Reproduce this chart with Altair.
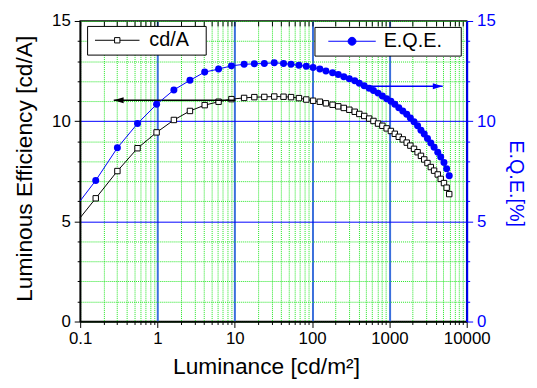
import altair as alt
import pandas as pd

FONT = "Liberation Sans"

# ---------------- data ----------------
luminance = [0.159, 0.303, 0.552, 0.974, 1.63, 2.63, 4.08, 6.17, 9.05, 13.2,
             17.9, 24.1, 32.4, 42.7, 53.4, 67.6, 84.1, 103, 126, 151,
             184, 218, 257, 303, 356, 408, 472, 547, 622, 713,
             811, 921, 1045, 1175, 1322, 1489, 1675, 1867, 2081, 2315,
             2560, 2820, 3107, 3433, 3784, 4220, 4610, 5080, 5500, 5940]
cd_per_a = [6.15, 7.51, 8.65, 9.44, 10.06, 10.51, 10.80, 10.97, 11.10, 11.16,
            11.20, 11.21, 11.23, 11.22, 11.20, 11.15, 11.08, 11.02, 10.97, 10.89,
            10.82, 10.74, 10.66, 10.57, 10.47, 10.36, 10.26, 10.13, 10.01, 9.88,
            9.77, 9.64, 9.51, 9.37, 9.22, 9.09, 8.93, 8.78, 8.62, 8.45,
            8.27, 8.09, 7.91, 7.71, 7.53, 7.34, 7.12, 6.91, 6.68, 6.36]
eqe = [7.04, 8.67, 9.88, 10.84, 11.56, 12.04, 12.45, 12.60, 12.76, 12.84,
       12.86, 12.88, 12.91, 12.88, 12.84, 12.79, 12.74, 12.68, 12.60, 12.50,
       12.42, 12.33, 12.22, 12.12, 12.02, 11.89, 11.77, 11.64, 11.53, 11.40,
       11.26, 11.12, 10.99, 10.84, 10.67, 10.51, 10.34, 10.16, 9.97, 9.77,
       9.55, 9.36, 9.14, 8.91, 8.70, 8.45, 8.21, 7.94, 7.62, 7.27]

# curves start at the left edge of the plot (no marker there)
start_lum = [0.1]
start_cd = [5.18]
start_eqe = [6.02]

# arrows (luminance from, luminance to, level)
arrow_cd = [0.272, 10.2, 11.04]
arrow_eqe = [497, 4890, 11.74]

x_major = [0.1, 1, 10, 100, 1000, 10000]
x_minor = [round(m * 10 ** e, 6) for e in range(-1, 4) for m in range(2, 10)]
y_ticks = list(range(0, 16))

series_cd = ["cd/A"]
series_eqe = ["E.Q.E."]

# ---------------- tables ----------------
cd_line_df = pd.DataFrame({"lum": start_lum + luminance, "val": start_cd + cd_per_a})
cd_pts_df = pd.DataFrame({"lum": luminance, "val": cd_per_a, "s1": series_cd[0]})
eqe_line_df = pd.DataFrame({"lum": start_lum + luminance, "val": start_eqe + eqe})
eqe_pts_df = pd.DataFrame({"lum": luminance, "val": eqe, "s2": series_eqe[0]})
arr_cd_df = pd.DataFrame({"lum": [arrow_cd[0]], "b": [arrow_cd[1]], "val": [arrow_cd[2]]})
arr_eqe_df = pd.DataFrame({"lum": [arrow_eqe[0]], "b": [arrow_eqe[1]], "val": [arrow_eqe[2]]})

x_scale = alt.Scale(type="log", domain=[0.1, 10000], nice=False)
y_scale = alt.Scale(domain=[0, 15], nice=False, zero=False)

major_x = "indexof([0.1,1,10,100,1000,10000], datum.value) >= 0"
inner_x = "datum.value == 1 || datum.value == 10 || datum.value == 100 || datum.value == 1000"
major_y = "datum.value % 5 == 0"
inner_y = "datum.value == 5 || datum.value == 10"
GREEN = "#22e622"

x_bottom_axis = alt.Axis(
    orient="bottom", values=x_major + x_minor, tickCount=200, format="~g",
    labelExpr=f"{major_x} ? datum.label : ''",
    labelFont=FONT, labelFontSize=17, labelColor="black", labelPadding=3,
    labelFlush=False, labelOverlap=False,
    tickColor="black", tickWidth=1,
    tickSize={"condition": {"test": major_x, "value": 6}, "value": 3},
    domainColor="black", domainWidth=1.5,
    grid=True,
    gridColor={"condition": {"test": inner_x, "value": "#3a6fdc"}, "value": GREEN},
    gridWidth={"condition": {"test": inner_x, "value": 2}, "value": 1},
    gridDash={"condition": {"test": inner_x, "value": []}, "value": [1, 1]},
    title="Luminance [cd/m²]", titleFont=FONT, titleFontSize=23,
    titleFontWeight="normal", titleColor="black", titleX=188, titleY=35,
)
y_left_axis = alt.Axis(
    orient="left", values=y_ticks, tickCount=200, format="d",
    labelExpr=f"{major_y} ? datum.label : ''",
    labelFont=FONT, labelFontSize=17, labelColor="black", labelPadding=4,
    labelFlush=False, labelOverlap=False,
    tickColor="black", tickWidth=1,
    tickSize={"condition": {"test": major_y, "value": 6}, "value": 3},
    domainColor="black", domainWidth=1.5,
    grid=True,
    gridColor={"condition": {"test": inner_y, "value": "#0000ff"}, "value": GREEN},
    gridWidth=1,
    gridDash={"condition": {"test": inner_y, "value": []}, "value": [1, 1]},
    title="Luminous Efficiency [cd/A]", titleFont=FONT, titleFontSize=23,
    titleFontWeight="normal", titleColor="black", titleX=-44, titleY=149,
)
x_top_axis = alt.Axis(
    orient="top", values=x_major + x_minor, tickCount=200, labels=False, tickColor="black",
    tickSize=5, tickWidth=1, domain=False, grid=False, offset=-5, title=None,
)
y_right_axis = alt.Axis(
    orient="right", values=y_ticks, tickCount=200, format="d",
    labelExpr=f"{major_y} ? datum.label : ''",
    labelFont=FONT, labelFontSize=17, labelColor="#0000ff", labelPadding=4,
    labelFlush=False, labelOverlap=False,
    tickColor="#0000ff", tickWidth=1,
    tickSize={"condition": {"test": major_y, "value": 6}, "value": 3},
    domainColor="#0000ff", domainWidth=2, grid=False,
    title="E.Q.E.[%]", titleFont=FONT, titleFontSize=20, titleFontWeight="normal",
    titleColor="#0000ff", titleX=39, titleY=164,
)

cd_symbol = "M-2.25,0H-0.27M0.27,0H2.25M-0.27,-0.27H0.27V0.27H-0.27ZM8.3,0M-2.65,0"
eqe_symbol = "M-2.4,0H2.4M0.4,0A0.4,0.4,0,1,1,-0.4,0A0.4,0.4,0,1,1,0.4,0ZM10.4,0M-3.4,0"

cd_legend = alt.Legend(
    orient="none", legendX=7, legendY=5, title=None, padding=4,
    strokeColor="black", fillColor="white",
    symbolType=cd_symbol, symbolSize=400, symbolStrokeWidth=1,
    symbolOffset=16, labelOffset=22, symbolFillColor="white", symbolStrokeColor="black",
    labelFont=FONT, labelFontSize=20, labelColor="black",
)
eqe_legend = alt.Legend(
    orient="none", legendX=237, legendY=6, title=None, padding=4,
    strokeColor="black", fillColor="white",
    symbolType=eqe_symbol, symbolSize=400, symbolStrokeWidth=1,
    symbolOffset=23.5, labelOffset=21.5, symbolFillColor="#0000ff", symbolStrokeColor="#0000ff",
    labelFont=FONT, labelFontSize=20, labelColor="black",
)


def xb(field):
    return alt.X(field, type="quantitative", scale=x_scale, axis=x_bottom_axis)


def yl(field):
    return alt.Y(field, type="quantitative", scale=y_scale, axis=y_left_axis)


def xt(field):
    return alt.X(field, type="quantitative", scale=x_scale, axis=x_top_axis)


def yr(field):
    return alt.Y(field, type="quantitative", scale=y_scale, axis=y_right_axis)


# ---------------- cd/A layer (bottom / left axes) ----------------
cd_line = alt.Chart(cd_line_df).mark_line(color="black", strokeWidth=1).encode(
    x=xb("lum"), y=yl("val"),
)
cd_pts = alt.Chart(cd_pts_df).mark_point(
    shape="square", filled=True, fill="white", size=30, strokeWidth=1, opacity=1
).encode(
    x=xb("lum"), y=yl("val"),
    stroke=alt.Stroke("s1:N", scale=alt.Scale(domain=series_cd, range=["black"]), legend=cd_legend),
)
cd_arrow = alt.Chart(arr_cd_df).mark_rule(color="black", strokeWidth=1.5).encode(
    x=xb("lum"), x2="b:Q", y=yl("val"),
)
cd_head = alt.Chart(arr_cd_df).mark_point(
    shape="M0,0L2,-0.6L2,0.6Z", filled=True, color="black", size=100, opacity=1
).encode(
    x=xb("lum"), y=yl("val"),
)
layer_cd = alt.layer(cd_line, cd_pts, cd_arrow, cd_head)

# ---------------- E.Q.E. layer (top / right axes) ----------------
eqe_line = alt.Chart(eqe_line_df).mark_line(color="#0000ff", strokeWidth=1).encode(
    x=xt("lum"), y=yr("val"),
)
eqe_pts = alt.Chart(eqe_pts_df).mark_point(
    shape="circle", filled=True, size=50, opacity=1
).encode(
    x=xt("lum"), y=yr("val"),
    fill=alt.Fill("s2:N", scale=alt.Scale(domain=series_eqe, range=["#0000ff"]), legend=eqe_legend),
)
eqe_arrow = alt.Chart(arr_eqe_df).mark_rule(color="#0000ff", strokeWidth=1.5).encode(
    x=xt("lum"), x2="b:Q", y=yr("val"),
)
eqe_head = alt.Chart(arr_eqe_df).mark_point(
    shape="M0,0L-2,-0.6L-2,0.6Z", filled=True, color="#0000ff", size=100, opacity=1
).encode(
    x=xt("b"), y=yr("val"),
)
layer_eqe = alt.layer(eqe_line, eqe_pts, eqe_arrow, eqe_head)

chart = (
    alt.layer(layer_cd, layer_eqe)
    .resolve_scale(x="independent", y="independent")
    .properties(
        width=391, height=304,
        padding={"left": 73, "top": 11, "right": 63, "bottom": 57},
        autosize=alt.AutoSizeParams(type="none"),
        background="white",
    )
    .configure_view(stroke="black", strokeWidth=1.5)
)

chart.save("out.html", embed_options={"renderer": "svg", "actions": False})
